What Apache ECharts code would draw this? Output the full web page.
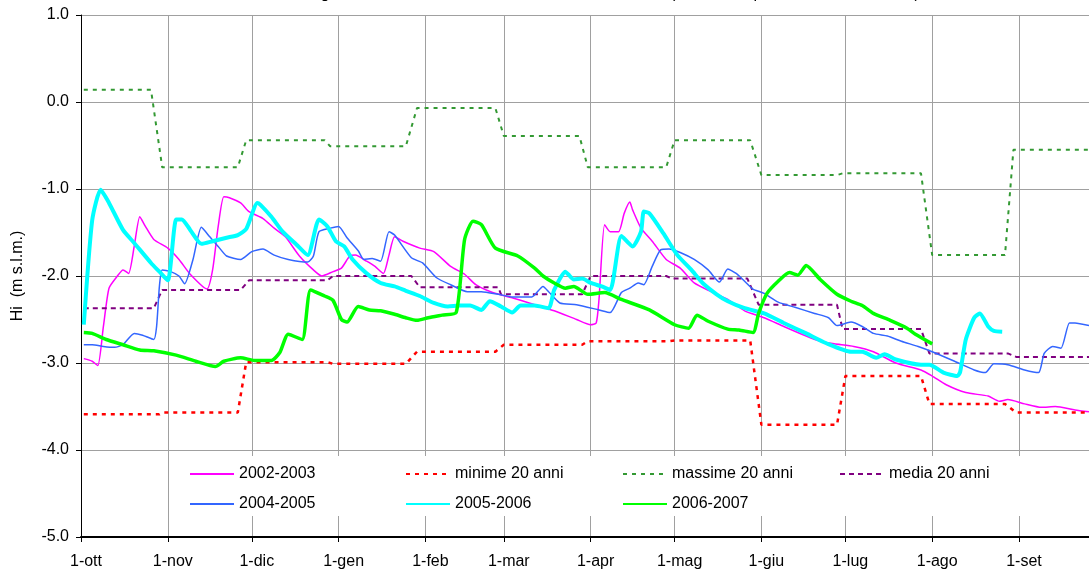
<!DOCTYPE html>
<html style="height: 100%; margin: 0">
<head>
<meta charset="UTF-8">
<title>Livelli di falda</title>
</head>
<body style="height: 100%; margin: 0; background: #fff">
<div id="container" style="width:1089px; height:577px"></div>
<script type="text/javascript" src="https://cdn.jsdelivr.net/npm/echarts@6/dist/echarts.min.js"></script>
<script type="text/javascript">
	// asse x: giorni dell'anno idrologico (0 = 1 ottobre)
	var mesi = ['ott','nov','dic','gen','feb','mar','apr','mag','giu','lug','ago','set'];
	var giorniMese = [31,30,31,31,28,31,30,31,30,31,31,30];
	var ultimoGiorno = 360;
	var tickY = [-5, -4, -3, -2, -1, 0, 1];

	// [giorno, Hi m s.l.m.]
	var s0203 = [[1,-2.95],[4,-2.98],[6,-3.03],[8,-2.58],[10,-2.14],[13,-2.00],[15,-1.93],[17,-1.97],[19,-1.66],[21,-1.32],[23,-1.43],[26,-1.58],[31,-1.68],[35,-1.81],[39,-1.98],[45,-2.15],[47,-1.93],[49,-1.43],[51,-1.09],[53,-1.10],[57,-1.16],[60,-1.26],[65,-1.34],[69,-1.45],[73,-1.55],[78,-1.77],[83,-1.93],[86,-2.00],[90,-1.95],[93,-1.91],[96,-1.77],[98,-1.76],[102,-1.83],[105,-1.89],[108,-1.97],[110,-1.76],[112,-1.55],[115,-1.60],[121,-1.68],[126,-1.72],[132,-1.89],[137,-1.98],[141,-2.10],[147,-2.19],[154,-2.25],[162,-2.33],[169,-2.40],[177,-2.50],[182,-2.56],[184,-2.54],[185,-2.27],[187,-1.41],[189,-1.49],[192,-1.49],[194,-1.28],[196,-1.15],[197,-1.24],[200,-1.45],[204,-1.60],[209,-1.81],[214,-1.91],[219,-2.08],[225,-2.18],[231,-2.27],[237,-2.40],[244,-2.48],[251,-2.58],[259,-2.69],[264,-2.75],[269,-2.78],[276,-2.81],[283,-2.87],[291,-3.00],[300,-3.08],[304,-3.15],[309,-3.25],[316,-3.34],[324,-3.38],[328,-3.44],[331,-3.42],[337,-3.47],[343,-3.51],[348,-3.50],[355,-3.54],[360,-3.56]];
	var s0405 = [[1,-2.79],[4,-2.79],[8,-2.81],[12,-2.82],[15,-2.79],[19,-2.66],[22,-2.68],[26,-2.73],[27,-2.58],[28,-2.12],[29,-1.93],[32,-1.95],[35,-2.00],[37,-2.09],[40,-1.81],[43,-1.44],[46,-1.55],[49,-1.66],[52,-1.77],[57,-1.81],[61,-1.72],[65,-1.69],[69,-1.76],[74,-1.81],[81,-1.84],[83,-1.77],[85,-1.49],[89,-1.45],[92,-1.43],[95,-1.56],[99,-1.71],[101,-1.81],[104,-1.80],[107,-1.83],[110,-1.49],[112,-1.53],[118,-1.79],[122,-1.85],[127,-2.02],[132,-2.10],[138,-2.18],[143,-2.18],[149,-2.21],[154,-2.24],[161,-2.24],[165,-2.12],[167,-2.18],[171,-2.31],[177,-2.33],[185,-2.39],[189,-2.42],[193,-2.19],[196,-2.14],[199,-2.08],[201,-2.10],[204,-1.89],[207,-1.70],[210,-1.69],[214,-1.73],[219,-1.81],[224,-1.93],[228,-2.07],[231,-1.92],[234,-1.97],[237,-2.06],[240,-2.15],[244,-2.20],[249,-2.30],[255,-2.36],[262,-2.43],[267,-2.48],[270,-2.57],[275,-2.53],[279,-2.58],[283,-2.66],[288,-2.69],[293,-2.75],[299,-2.81],[304,-2.87],[312,-2.98],[319,-3.08],[323,-3.11],[326,-3.01],[331,-3.02],[337,-3.08],[342,-3.11],[344,-2.89],[347,-2.81],[350,-2.83],[353,-2.54],[355,-2.54],[360,-2.57]];
	var s0506 = [[1,-2.56],[4,-1.36],[7,-1.01],[10,-1.16],[15,-1.47],[19,-1.62],[25,-1.85],[28,-1.95],[31,-2.05],[34,-1.35],[36,-1.35],[39,-1.47],[43,-1.63],[47,-1.60],[52,-1.56],[56,-1.53],[59,-1.46],[63,-1.16],[64,-1.18],[68,-1.32],[72,-1.49],[77,-1.64],[81,-1.76],[85,-1.35],[88,-1.43],[91,-1.60],[94,-1.66],[97,-1.81],[102,-1.97],[107,-2.08],[112,-2.12],[116,-2.17],[121,-2.23],[126,-2.31],[131,-2.35],[135,-2.34],[139,-2.34],[143,-2.39],[146,-2.29],[150,-2.35],[154,-2.42],[157,-2.34],[162,-2.34],[167,-2.37],[169,-2.16],[173,-1.95],[174,-1.98],[176,-2.04],[179,-2.03],[182,-2.08],[186,-2.12],[189,-2.16],[193,-1.54],[197,-1.66],[200,-1.49],[201,-1.26],[203,-1.28],[208,-1.51],[213,-1.76],[218,-1.93],[222,-2.08],[227,-2.21],[231,-2.29],[237,-2.37],[244,-2.43],[251,-2.54],[259,-2.66],[266,-2.77],[275,-2.87],[279,-2.87],[284,-2.94],[287,-2.90],[291,-2.96],[300,-3.02],[303,-3.02],[308,-3.11],[313,-3.15],[314,-3.10],[316,-2.73],[319,-2.48],[321,-2.43],[324,-2.58],[326,-2.63],[329,-2.64]];
	var s0607 = [[1,-2.65],[4,-2.66],[9,-2.73],[15,-2.79],[21,-2.85],[26,-2.86],[34,-2.91],[41,-2.98],[48,-3.04],[51,-2.98],[57,-2.94],[62,-2.97],[68,-2.97],[71,-2.88],[74,-2.67],[79,-2.73],[82,-2.16],[87,-2.23],[90,-2.28],[93,-2.50],[95,-2.53],[99,-2.35],[103,-2.39],[107,-2.40],[112,-2.44],[116,-2.48],[120,-2.51],[124,-2.48],[129,-2.45],[134,-2.42],[137,-1.58],[140,-1.37],[143,-1.41],[148,-1.68],[156,-1.77],[162,-1.91],[165,-2.00],[169,-2.08],[173,-2.14],[176,-2.12],[181,-2.21],[187,-2.19],[193,-2.27],[203,-2.39],[212,-2.56],[217,-2.60],[220,-2.45],[224,-2.52],[231,-2.61],[235,-2.62],[240,-2.65],[242,-2.43],[245,-2.20],[249,-2.06],[253,-1.96],[256,-1.99],[259,-1.88],[264,-2.04],[270,-2.21],[275,-2.29],[279,-2.34],[283,-2.43],[289,-2.51],[295,-2.60],[298,-2.67],[304,-2.78]];
	var minime = [[1,-3.59],[28,-3.59],[29,-3.57],[56,-3.57],[59,-2.99],[88,-2.99],[90,-3.01],[116,-3.01],[120,-2.87],[148,-2.87],[151,-2.79],[179,-2.79],[181,-2.75],[210,-2.75],[212,-2.74],[239,-2.74],[243,-3.71],[270,-3.71],[273,-3.15],[300,-3.15],[303,-3.47],[330,-3.47],[334,-3.57],[360,-3.57]];
	var massime = [[1,0.14],[25,0.14],[29,-0.75],[56,-0.75],[59,-0.44],[87,-0.44],[89,-0.51],[116,-0.51],[120,-0.07],[148,-0.07],[151,-0.39],[178,-0.39],[181,-0.75],[209,-0.75],[212,-0.44],[239,-0.44],[243,-0.84],[270,-0.84],[272,-0.82],[300,-0.82],[304,-1.76],[330,-1.76],[333,-0.55],[360,-0.55]];
	var media = [[1,-2.37],[26,-2.37],[29,-2.16],[57,-2.16],[60,-2.05],[88,-2.05],[90,-2.00],[118,-2.00],[121,-2.13],[149,-2.13],[150,-2.21],[179,-2.21],[182,-2.00],[209,-2.00],[211,-2.03],[238,-2.03],[242,-2.33],[270,-2.33],[272,-2.61],[300,-2.61],[303,-2.89],[331,-2.89],[334,-2.93],[360,-2.93]];

	var giorni = [];
	var inizioMese = {};
	for (var m = 0; m < mesi.length; m++) {
		for (var d = 1; d <= giorniMese[m]; d++) {
			if (d === 1) inizioMese[giorni.length] = true;
			giorni.push(d + '-' + mesi[m]);
		}
	}
	giorni = giorni.slice(0, ultimoGiorno + 1);
	function primoDelMese(i) { return inizioMese[i] === true; }

	var font = 'Liberation Sans, Arial, sans-serif';
	var testo = { fontFamily: font, fontSize: 16, color: '#000' };

	function legenda(x, nomi) {
		return {
			left: x, top: 466, orient: 'vertical', padding: 0,
			itemWidth: 44, itemHeight: 14, itemGap: 14,
			itemStyle: { opacity: 0 },
			textStyle: testo, data: nomi
		};
	}

	function serie(nome, dati, colore, spessore, tipo, liscia) {
		return {
			name: nome, type: 'line', data: dati, symbol: 'none',
			smooth: liscia ? 0.2 : false,
			lineStyle: { color: colore, width: spessore, type: tipo },
			itemStyle: { color: colore },
			emphasis: { disabled: true }
		};
	}

	var dom = document.getElementById("container");
	var myChart = echarts.init(dom);
	var option = {
		animation: false,
		backgroundColor: '#fff',
		title: {
			left: 'center', top: -14, padding: 0,
			text: 'Andamento dei livelli giornalieri di falda freatica nel territorio comunale (misure nel piezometro di controllo)',
			textStyle: { fontFamily: font, fontSize: 16, fontWeight: 'normal', color: '#000' }
		},
		grid: { left: 81, right: 0, top: 15, bottom: 40 },
		graphic: [{
			type: 'rect', z: 3, silent: true,
			shape: { x: 172, y: 456, width: 860, height: 60 },
			style: { fill: '#fff' }
		}],
		legend: [
			legenda(189, ['2002-2003', '2004-2005']),
			legenda(405, ['minime 20 anni', '2005-2006']),
			legenda(622, ['massime 20 anni', '2006-2007']),
			legenda(839, ['media 20 anni'])
		],
		xAxis: {
			type: 'category',
			boundaryGap: false,
			data: giorni,
			axisLine: { onZero: false, lineStyle: { color: '#000', width: 2 } },
			axisTick: { interval: primoDelMese, length: 5, lineStyle: { color: '#000' } },
			axisLabel: { interval: primoDelMese, margin: 17, padding: [0, 0, 0, 10], fontFamily: font, fontSize: 16, color: '#000' },
			splitLine: { show: true, interval: primoDelMese, lineStyle: { color: '#a0a0a0', width: 1 } }
		},
		yAxis: {
			type: 'value',
			min: tickY[0], max: tickY[tickY.length - 1], interval: 1,
			name: 'Hi  (m s.l.m.)',
			nameLocation: 'middle', nameGap: 55,
			nameTextStyle: testo,
			axisLine: { show: true, lineStyle: { color: '#000', width: 1 } },
			axisTick: { show: true, length: 5, lineStyle: { color: '#000' } },
			axisLabel: { margin: 12, fontFamily: font, fontSize: 16, color: '#000',
				formatter: function (v) { return v.toFixed(1); } },
			splitLine: { lineStyle: { color: '#a0a0a0', width: 1 } }
		},
		series: [
			serie('2002-2003', s0203, '#ff00ff', 1.5, 'solid', true),
			serie('minime 20 anni', minime, '#ff0000', 2.5, [4, 5], false),
			serie('massime 20 anni', massime, '#339933', 2, [4, 5], false),
			serie('media 20 anni', media, '#800080', 2, [5, 4], false),
			serie('2004-2005', s0405, '#3366ff', 1.5, 'solid', true),
			serie('2005-2006', s0506, '#00ffff', 4, 'solid', true),
			serie('2006-2007', s0607, '#00ff00', 3.5, 'solid', true)
		]
	};
	if (option && typeof option === "object") {
		myChart.setOption(option, true);
	}
</script>
</body>
</html>
